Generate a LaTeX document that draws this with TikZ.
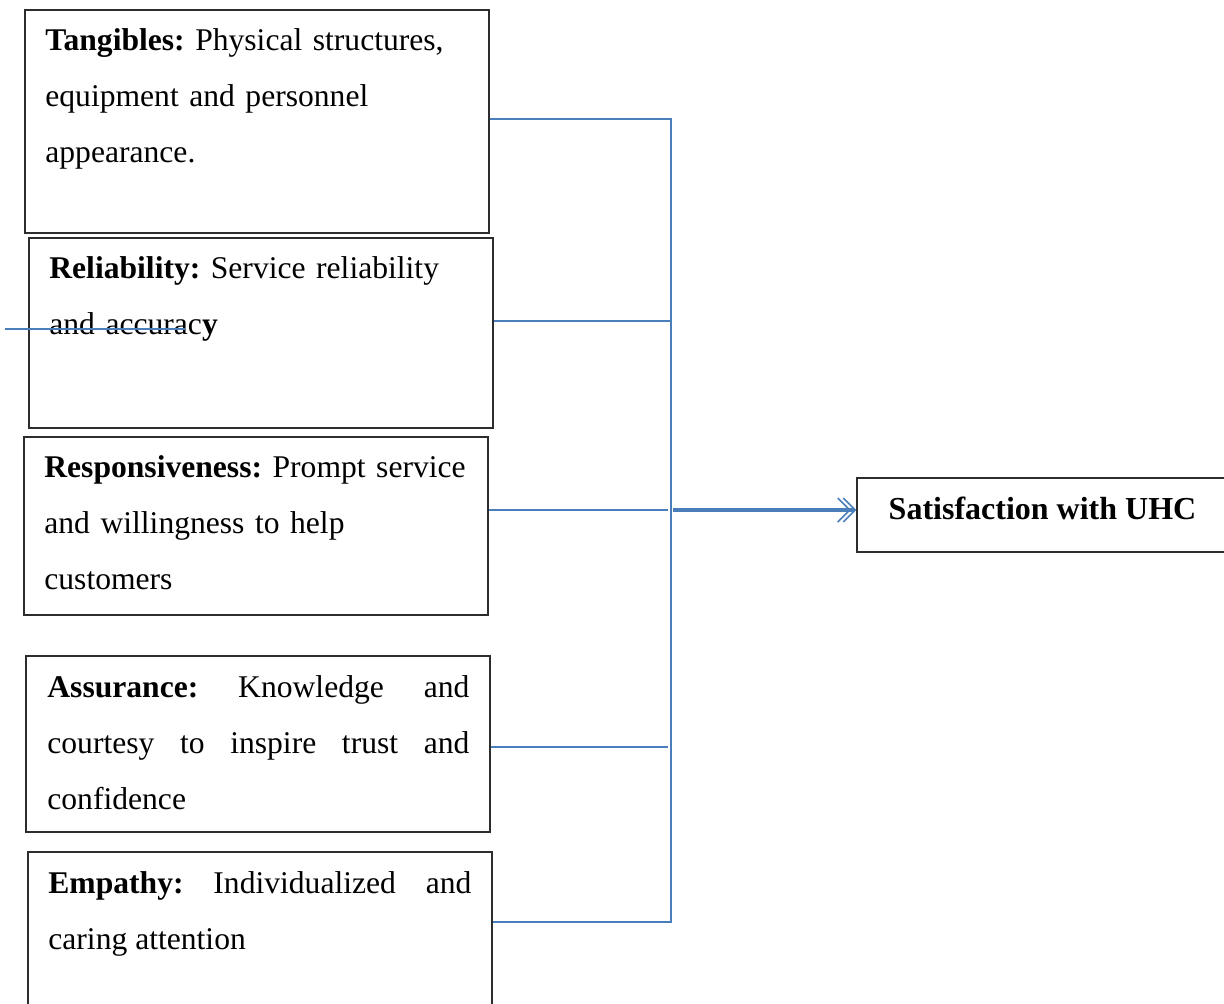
\documentclass[tikz,border=0pt]{standalone}
\usepackage{fontspec}
\setmainfont{Liberation Serif}
\usetikzlibrary{arrows.meta}
\definecolor{uhc-blue}{RGB}{74,126,187}
\definecolor{uhc-frame}{RGB}{45,45,45}

\begin{document}
\begin{tikzpicture}[x=0.5pt, y=-0.5pt,
    box/.style={draw=uhc-frame, line width=0.6pt, inner sep=0pt, minimum width=232pt},
    txt/.style={anchor=base west, inner sep=0pt, text width=#1, align=left,
        font=\fontsize{15.8}{28}\selectfont\frenchspacing},
    jtxt/.style={txt=#1, align=justify},
    link/.style={draw=uhc-blue, line width=0.9pt},
    flow/.style={draw=uhc-blue, line width=1.6pt,
        -{Straight Barb[length=6pt,width=12pt,line width=0.8pt,sep=-4.2pt]Straight Barb[length=6pt,width=12pt,line width=0.8pt]}}]
    \path[use as bounding box, clip] (0,0) rectangle (1224,1003);

    % dimension boxes
    \node[box, minimum height=111.5pt] (tang) at (257,121.5) {};
    \node[box, minimum height=95pt] (rel) at (261,333) {};
    \node[box, minimum height=89pt] (resp) at (256,526) {};
    \node[box, minimum height=88pt] (assur) at (258,744) {};
    \node[box, minimum height=94pt] (emp) at (260,946) {};
    \node[box, minimum width=186.5pt, minimum height=37pt] (sat) at (1043.5,515) {};

    \node[txt=220pt] (tangtxt) at (45,50)
        {\textbf{Tangibles:} Physical structures,\\ equipment and personnel\\ appearance.};
    \node[txt=220pt] (reltxt) at (49,278)
        {\textbf{Reliability:} Service reliability\\ and accurac\textbf{y}};
    \node[txt=225pt] (resptxt) at (44,477)
        {\textbf{Responsiveness:} Prompt service\\ and willingness to help\\ customers};
    \node[jtxt=211pt] (assurtxt) at (47,697)
        {\textbf{Assurance:} Knowledge and\linebreak courtesy to inspire trust and\linebreak confidence};
    \node[jtxt=211.5pt] (emptxt) at (48,893)
        {\textbf{Empathy:} Individualized and\linebreak caring attention};
    \node[anchor=base, inner sep=0pt, font=\fontsize{16}{28}\selectfont\bfseries] (sattxt)
        at (1042.5,519) {Satisfaction with UHC};

    % connectors
    \coordinate (bustop) at (671,119);
    \coordinate (busbot) at (671,922);
    \coordinate (relhit) at (671,321);
    \coordinate (resphit) at (668,510);
    \coordinate (assurhit) at (668,747);
    \coordinate (busmid) at (673,510);
    \coordinate (strayA) at (5,329);
    \coordinate (strayB) at (185,329);

    \draw[link] (tang.east |- bustop) -- (bustop) -- (busbot) -- (emp.east |- busbot);
    \draw[link] (rel.east |- relhit) -- (relhit);
    \draw[link] (resp.east |- resphit) -- (resphit);
    \draw[link] (assur.east |- assurhit) -- (assurhit);
    \draw[flow] (busmid) -- (sat.west |- busmid);
    \draw[link] (strayA) -- (strayB);
\end{tikzpicture}
\end{document}
